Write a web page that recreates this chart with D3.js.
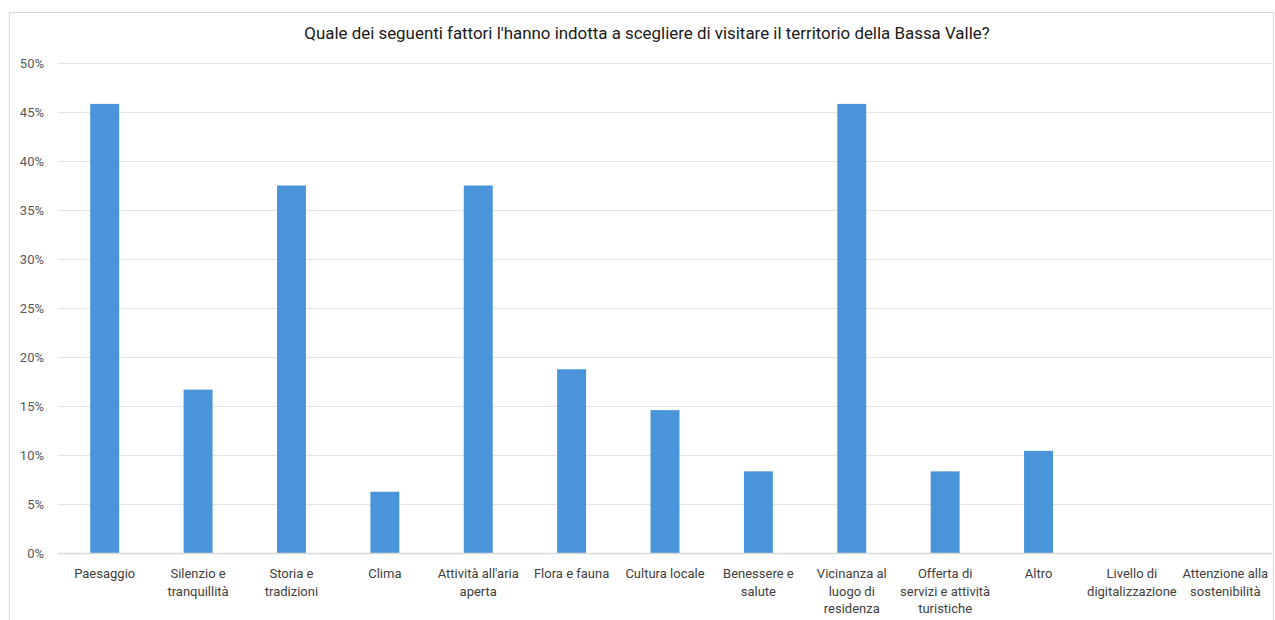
<!DOCTYPE html>
<html>
<head>
<meta charset="utf-8">
<script src="https://cdn.jsdelivr.net/npm/d3@7"></script>
<style>
  html, body { margin: 0; padding: 0; background: #fff; }
  svg { display: block; }
  text { font-family: Roboto, "Noto Sans", sans-serif; }
</style>
</head>
<body>
<svg id="chart" width="1275" height="620"></svg>
<script>
// Survey answers: share of respondents citing each factor
const categories = [
  "Paesaggio",
  "Silenzio e tranquillità",
  "Storia e tradizioni",
  "Clima",
  "Attività all'aria aperta",
  "Flora e fauna",
  "Cultura locale",
  "Benessere e salute",
  "Vicinanza al luogo di residenza",
  "Offerta di servizi e attività turistiche",
  "Altro",
  "Livello di digitalizzazione",
  "Attenzione alla sostenibilità"
];
// Label lines as wrapped under the axis
const labelLines = [
  ["Paesaggio"],
  ["Silenzio e", "tranquillità"],
  ["Storia e", "tradizioni"],
  ["Clima"],
  ["Attività all'aria", "aperta"],
  ["Flora e fauna"],
  ["Cultura locale"],
  ["Benessere e", "salute"],
  ["Vicinanza al", "luogo di", "residenza"],
  ["Offerta di", "servizi e attività", "turistiche"],
  ["Altro"],
  ["Livello di", "digitalizzazione"],
  ["Attenzione alla", "sostenibilità"]
];
const values = [0.4583, 0.1667, 0.375, 0.0625, 0.375, 0.1875, 0.1458, 0.0833, 0.4583, 0.0833, 0.1042, 0, 0];
const yTicks = [0, 0.05, 0.10, 0.15, 0.20, 0.25, 0.30, 0.35, 0.40, 0.45, 0.50];
const title = "Quale dei seguenti fattori l'hanno indotta a scegliere di visitare il territorio della Bassa Valle?";

const svg = d3.select("#chart");
const plot = { left: 58, right: 1272, top: 63, bottom: 553 };

// chart frame
svg.append("rect")
  .attr("x", 9.5).attr("y", 12.5)
  .attr("width", 1264).attr("height", 620)
  .attr("fill", "#fff").attr("stroke", "#d9d9d9").attr("stroke-width", 1);

svg.append("text")
  .attr("x", 647).attr("y", 39)
  .attr("text-anchor", "middle")
  .attr("font-size", 16.9)
  .attr("fill", "#1a1a1a")
  .text(title);

const x = d3.scaleBand()
  .domain(categories)
  .range([plot.left, plot.right])
  .paddingInner(0.69)
  .paddingOuter(0.345);

const y = d3.scaleLinear()
  .domain([0, 0.5])
  .range([plot.bottom, plot.top]);

// horizontal gridlines and y labels
const yAxis = d3.axisLeft(y)
  .tickValues(yTicks)
  .tickFormat(d3.format(".0%"))
  .tickSize(-(plot.right - plot.left))
  .tickPadding(14);

const gy = svg.append("g")
  .attr("transform", `translate(${plot.left},0)`)
  .call(yAxis);
gy.select(".domain").remove();
gy.selectAll(".tick line").attr("stroke", "#e3e3e3").attr("stroke-width", 1);
gy.selectAll(".tick text")
  .attr("font-size", 13)
  .attr("fill", "#595959")
  .attr("font-family", "Roboto, 'Noto Sans', sans-serif");

// bars
svg.append("g")
  .selectAll("rect")
  .data(values)
  .join("rect")
  .attr("x", (d, i) => x(categories[i]))
  .attr("width", x.bandwidth())
  .attr("y", d => y(d))
  .attr("height", d => y(0) - y(d))
  .attr("fill", "#4a94da");

// baseline
svg.append("line")
  .attr("x1", plot.left).attr("x2", plot.right)
  .attr("y1", y(0) + 0.5).attr("y2", y(0) + 0.5)
  .attr("stroke", "#d9d9d9").attr("stroke-width", 1.5);

// category labels
const xl = svg.append("g");
categories.forEach((c, i) => {
  const cx = x(c) + x.bandwidth() / 2;
  const t = xl.append("text")
    .attr("x", cx)
    .attr("y", 578)
    .attr("text-anchor", "middle")
    .attr("font-size", 13)
    .attr("fill", "#404040");
  labelLines[i].forEach((line, k) => {
    t.append("tspan")
      .attr("x", cx)
      .attr("dy", k === 0 ? 0 : 17.5)
      .text(line);
  });
});
</script>
</body>
</html>
